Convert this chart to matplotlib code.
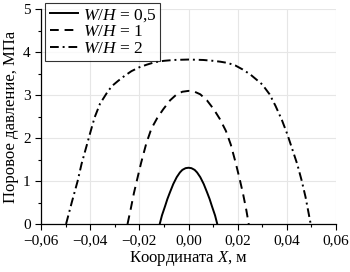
import matplotlib
matplotlib.use("Agg")
import matplotlib.pyplot as plt
from matplotlib.ticker import MultipleLocator, FuncFormatter

plt.rcParams['font.family'] = ['Liberation Serif', 'DejaVu Serif']
plt.rcParams['mathtext.fontset'] = 'custom'
plt.rcParams['mathtext.rm'] = 'Liberation Serif'
plt.rcParams['mathtext.it'] = 'Liberation Serif:italic'

# W/H = 0,5
x_05 = [-0.0117, -0.0108, -0.0095, -0.0086, -0.0076, -0.0062, -0.0048, -0.0035, -0.0025, -0.0012, 0.0,
        0.0012, 0.0025, 0.0035, 0.0048, 0.0062, 0.0076, 0.0086, 0.0095, 0.0108, 0.0117]
p_05 = [0.0, 0.20, 0.42, 0.58, 0.73, 0.93, 1.09, 1.20, 1.26, 1.30, 1.31,
        1.30, 1.26, 1.20, 1.09, 0.93, 0.73, 0.58, 0.42, 0.20, 0.0]

# W/H = 1
x_1 = [-0.0248, -0.0235, -0.0222, -0.0208, -0.0193, -0.0172, -0.0151, -0.0127, -0.0103, -0.0075, -0.0048, -0.0025, 0.0,
       0.0025, 0.0048, 0.0075, 0.0103, 0.0127, 0.0152, 0.0172, 0.0193, 0.0208, 0.0222, 0.0235, 0.0245]
p_1 = [0.0, 0.35, 0.72, 1.06, 1.42, 1.87, 2.22, 2.47, 2.67, 2.88, 3.02, 3.08, 3.10,
       3.08, 3.02, 2.88, 2.67, 2.45, 2.17, 1.85, 1.40, 1.05, 0.70, 0.33, 0.0]

# W/H = 2
x_2 = [-0.0498, -0.0475, -0.0451, -0.0435, -0.0416, -0.0400, -0.0382, -0.0360, -0.0328, -0.0310, -0.0287,
       -0.0260, -0.0232, -0.0200, -0.0170, -0.0136, -0.0100, -0.0060, 0.0,
       0.0060, 0.0100, 0.0129, 0.0160, 0.0191, 0.0220, 0.0252, 0.0300, 0.0330, 0.0354, 0.0380, 0.0402,
       0.0420, 0.0442, 0.0460, 0.0476, 0.0497]
p_2 = [0.0, 0.50, 1.0, 1.40, 1.79, 2.12, 2.48, 2.80, 3.09, 3.22, 3.33,
       3.45, 3.56, 3.65, 3.71, 3.77, 3.80, 3.82, 3.83,
       3.82, 3.80, 3.78, 3.75, 3.69, 3.60, 3.48, 3.25, 3.02, 2.75, 2.42, 2.09,
       1.78, 1.40, 1.02, 0.63, 0.0]

fig = plt.figure(figsize=(3.5, 2.72), dpi=100)
ax = fig.add_axes([41/350, 1-224/272, (336-41)/350, (224-9.3)/272])

ax.plot(x_05, p_05, color='black', lw=1.4, ls='-', label=r'$W/H$ = 0,5')
ax.plot(x_1, p_1, color='black', lw=1.4, ls=(0, (4.5, 3)), label=r'$W/H$ = 1')
ax.plot(x_2, p_2, color='black', lw=1.4, ls=(0, (4.5, 2, 1, 2)), label=r'$W/H$ = 2')

ax.set_xlim(-0.06, 0.06)
ax.set_ylim(0, 5)
ax.xaxis.set_major_locator(MultipleLocator(0.02))
ax.xaxis.set_minor_locator(MultipleLocator(0.01))
ax.yaxis.set_major_locator(MultipleLocator(1))
ax.yaxis.set_minor_locator(MultipleLocator(0.5))
ax.xaxis.set_major_formatter(FuncFormatter(lambda v, p: ('%.2f' % v).replace('.', ',').replace('-', '\u2212')))
ax.yaxis.set_major_formatter(FuncFormatter(lambda v, p: '%d' % v))

ax.grid(True, which='major', color='#e6e6e6', lw=0.8)
ax.set_axisbelow(True)
for s in ['top', 'right']:
    ax.spines[s].set_visible(False)
ax.spines['left'].set_linewidth(0.9)
ax.spines['bottom'].set_linewidth(0.9)
ax.tick_params(which='major', direction='out', length=4, width=0.8, labelsize=11)
ax.tick_params(which='minor', direction='out', length=2.5, width=0.8)

ax.set_xlabel('Координата $X$, м', fontsize=12, labelpad=1)
ax.set_ylabel('Поровое давление, МПа', fontsize=12, labelpad=3)

leg = ax.legend(loc='upper left', bbox_to_anchor=(0.015, 1.03), fontsize=12.5, frameon=True,
                fancybox=False, handlelength=1.6, handletextpad=0.3, labelspacing=0.02,
                borderpad=0.25, borderaxespad=0)
leg.get_frame().set_edgecolor('black')
leg.get_frame().set_linewidth(0.8)

fig.savefig('out.png', dpi=100)
